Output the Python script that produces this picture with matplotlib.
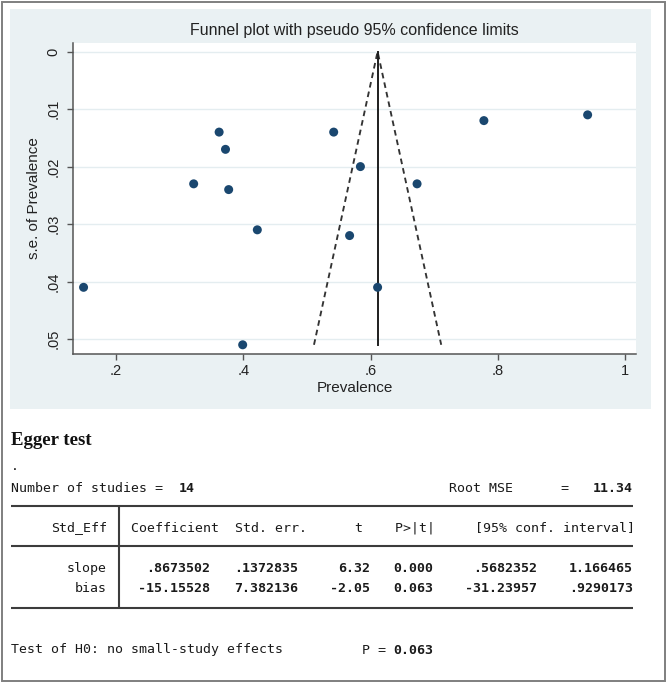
import matplotlib
matplotlib.use("Agg")
import matplotlib.pyplot as plt
from matplotlib.patches import Rectangle

# ---------------- data ----------------
prevalence = [0.149, 0.322, 0.362, 0.372, 0.377, 0.399, 0.422,
              0.542, 0.584, 0.567, 0.611, 0.673, 0.778, 0.941]
se_prev = [0.041, 0.023, 0.014, 0.017, 0.024, 0.051, 0.031,
           0.014, 0.020, 0.032, 0.041, 0.023, 0.012, 0.011]
pooled = 0.611

xticks = [0.2, 0.4, 0.6, 0.8, 1.0]
xticklabels = [".2", ".4", ".6", ".8", "1"]
yticks = [0, 0.01, 0.02, 0.03, 0.04, 0.05]
yticklabels = ["0", ".01", ".02", ".03", ".04", ".05"]

n_studies = "14"
root_mse = "11.34"
row_labels = ["slope", "bias"]
coef = [".8673502", "-15.15528"]
std_err = [".1372835", "7.382136"]
t_vals = ["6.32", "-2.05"]
p_vals = ["0.000", "0.063"]
ci_low = [".5682352", "-31.23957"]
ci_high = ["1.166465", ".9290173"]
p_test = "0.063"

# ---------------- figure ----------------
W, H = 667, 683
fig = plt.figure(figsize=(W / 100, H / 100), dpi=100)
fig.patch.set_facecolor("white")

bg = fig.add_axes([0, 0, 1, 1], zorder=0)
bg.set_xlim(0, W)
bg.set_ylim(H, 0)
bg.axis("off")
bg.add_patch(Rectangle((1.5, 1.5), W - 3.5, H - 3.5, fill=False,
                       ec="#7f7f7f", lw=1.4))
bg.add_patch(Rectangle((10, 9), 641, 400, fc="#eaf1f3", ec="none"))

sans = "Liberation Sans"
ax = fig.add_axes([73 / W, 1 - 354 / H, (636 - 73) / W, (354 - 43) / H],
                  zorder=2)
ax.set_facecolor("white")
ax.set_xlim(0.1324, 1.017)
ax.set_ylim(0.0526, -0.0015)
ax.set_axisbelow(True)
ax.yaxis.grid(True, color="#e4edf0", lw=1.0)
ax.xaxis.grid(False)

se_max = max(se_prev)
ax.plot([pooled - 1.96 * se_max, pooled, pooled + 1.96 * se_max],
        [se_max, 0, se_max], ls=(0, (3.0, 2.2)), color="#333333", lw=1.35,
        zorder=2)
ax.plot([pooled, pooled], [0, se_max], color="#1e1e1e", lw=1.4, zorder=2)
ax.scatter(prevalence, se_prev, s=42, color="#1a476f", edgecolors="none",
           zorder=3)

for s in ("top", "right"):
    ax.spines[s].set_visible(False)
for s in ("left", "bottom"):
    ax.spines[s].set_color("#555555")
    ax.spines[s].set_linewidth(1.1)

ax.set_xticks(xticks)
ax.set_xticklabels(xticklabels, fontsize=10.5, family=sans, color="#222")
ax.set_yticks(yticks)
ax.set_yticklabels(yticklabels, fontsize=10.5, family=sans, color="#222",
                   rotation=90, va="center")
ax.tick_params(axis="both", direction="out", length=4.5, width=1.0,
               color="#555555")
ax.tick_params(axis="x", pad=2.5)
ax.tick_params(axis="y", pad=4.5)
ax.set_xlabel("Prevalence", fontsize=11, family=sans, color="#222",
              labelpad=2)
ax.set_ylabel("s.e. of Prevalence", fontsize=11, family=sans, color="#222",
              labelpad=4)

fig.text(354.5 / W, 1 - 31 / H,
         "Funnel plot with pseudo 95% confidence limits",
         ha="center", va="center", fontsize=11.5, family=sans, color="#222")

# ---------------- Egger test text ----------------
bg.text(11, 445, "Egger test", family="Liberation Serif", weight="bold",
        fontsize=13.5, color="#111", ha="left", va="baseline")

mono = "DejaVu Sans Mono"
fs = 9.55
x0, cw = 11.0, 7.97
tc = "#1a1a1a"


def put(col, y, s, bold=False, right=False):
    x = x0 + col * cw
    bg.text(x, y, s, family=mono, fontsize=fs, color=tc,
            weight="bold" if bold else "normal",
            ha="right" if right else "left", va="baseline")


put(0, 470, ".")
put(0, 491.5, "Number of studies =")
put(21, 491.5, n_studies, bold=True)
put(55, 491.5, "Root MSE      =")
put(73, 491.5, root_mse, bold=True)

put(12, 531.5, "Std_Eff", right=True)
put(15, 531.5, "Coefficient  Std. err.      t    P>|t|     [95% conf. interval]")

row_y = [572, 592]
field_ends = [25, 36, 45, 53, 66, 78]
for i, lab in enumerate(row_labels):
    put(12, row_y[i], lab, right=True)
    vals = [coef[i], std_err[i], t_vals[i], p_vals[i], ci_low[i], ci_high[i]]
    for end, v in zip(field_ends, vals):
        put(end, row_y[i], v, bold=True, right=True)

put(0, 653.5, "Test of H0: no small-study effects")
put(44, 653.5, "P =")
put(48, 653.5, p_test, bold=True)

lc = "#3c3c3c"
x_left, x_right = x0, x0 + 78 * cw
for yy in (505.7, 545.7, 607.7):
    bg.plot([x_left, x_right], [yy, yy], color=lc, lw=1.5,
            solid_capstyle="butt")
xv = x0 + 13 * cw + cw / 2
bg.plot([xv, xv], [505.7, 607.7], color=lc, lw=1.5, solid_capstyle="butt")

fig.savefig("out.png", dpi=100, facecolor="white")
